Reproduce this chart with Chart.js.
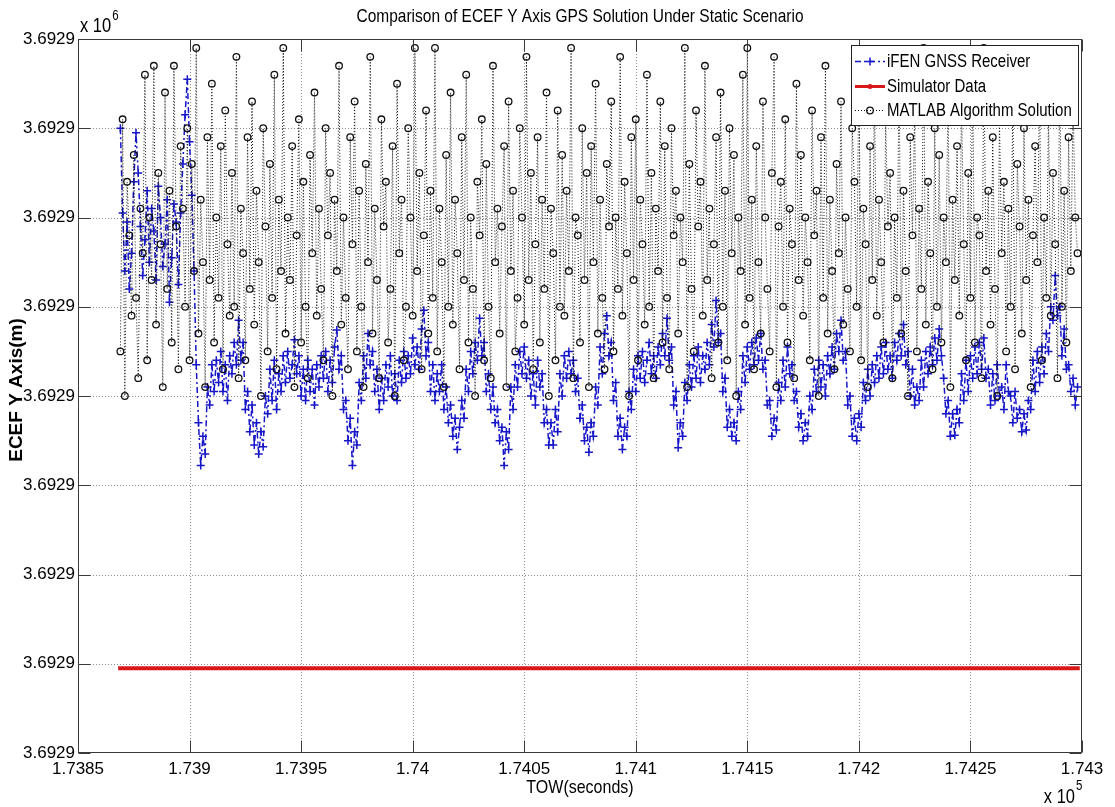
<!DOCTYPE html>
<html><head><meta charset="utf-8">
<script src="https://cdn.jsdelivr.net/npm/chart.js@4.4.1/dist/chart.umd.min.js"></script>
<style>html,body{margin:0;padding:0;background:#fff;overflow:hidden}canvas{display:block}</style>
</head><body>
<canvas id="c" width="1115" height="807"></canvas>
<script>
const chartTitle = 'Comparison of ECEF Y Axis GPS Solution Under Static Scenario';
const xAxisTitle = 'TOW(seconds)';
const yAxisTitle = 'ECEF Y Axis(m)';
const seriesNames = ['iFEN GNSS Receiver', 'Simulator Data', 'MATLAB Algorithm Solution'];
const xTickValues = [173850, 173900, 173950, 174000, 174050, 174100, 174150, 174200, 174250, 174300];
const yTickValues = [3692890, 3692891, 3692892, 3692893, 3692894, 3692895, 3692896, 3692897, 3692898];
const yBase = 3692890;        // metres; series below are offsets from this
const towStart = 173869;      // first epoch (s), 1 Hz epochs

const ifenOffset = [
 7.00, 6.05, 5.40, 5.95, 5.20, 5.60, 6.40, 6.95, 6.50, 5.90,
 5.35, 5.75, 6.30, 5.50, 6.10, 5.85, 5.30, 6.35, 6.00, 5.45,
 5.70, 6.20, 5.05, 5.55, 6.15, 5.95, 5.25, 6.05, 6.60, 7.15,
 7.55, 6.85, 6.25,
 5.40, 4.35, 3.70, 3.22, 3.55, 3.35, 4.10, 3.90, 4.35, 4.05,
 4.40, 4.15, 4.50, 4.05, 4.35, 3.95, 4.45, 4.25, 4.60, 4.35,
 4.85, 4.40, 4.60, 3.85, 4.05, 3.60, 3.90, 3.45, 3.70, 3.35,
 3.60, 3.43, 4.00, 3.80, 4.30, 3.95, 4.40, 3.85, 4.25, 4.05,
 4.45, 4.15, 4.50, 4.20, 4.35, 4.63, 4.25, 4.45, 4.00, 4.30,
 3.95, 4.40, 4.05, 4.30, 3.90, 4.35, 4.10, 4.45, 4.20, 4.50,
 4.05, 4.40, 4.15, 4.55, 4.74, 4.30, 4.45, 3.85, 3.95, 3.50,
 3.75, 3.22, 3.60, 3.45, 4.15, 3.95, 4.45, 4.20, 4.70, 4.35,
 4.50, 4.05, 4.30, 3.85, 4.20, 3.95, 4.35, 4.10, 4.45, 4.00,
 4.25, 3.95, 4.40, 4.15, 4.50, 4.20, 4.45, 4.25, 4.65, 4.35,
 4.55, 4.30, 4.75, 4.96, 4.45, 4.60, 4.05, 4.35, 3.95, 4.25,
 4.05, 4.35, 3.85, 4.10, 3.70, 3.90, 3.55, 3.75, 3.40, 3.65,
 3.95, 3.75, 4.30, 4.05, 4.50, 4.25, 4.60, 4.40, 4.87, 4.45,
 4.60, 4.05, 4.25, 3.85, 4.10, 3.70, 3.85, 3.50, 3.65, 3.22,
 3.60, 3.40, 4.10, 3.85, 4.35, 4.10, 4.50, 4.25, 4.55, 4.20,
 4.40, 4.00, 4.25, 3.90, 4.40, 4.10, 4.25, 3.70, 3.85, 3.45,
 3.70, 3.45, 3.85, 3.60, 4.25, 4.00, 4.45, 4.20, 4.50, 4.25,
 4.40, 4.05, 4.20, 3.75, 3.90, 3.50, 3.65, 3.37, 3.70, 3.55,
 4.10, 3.90, 4.55, 4.25, 4.70, 4.90, 4.45, 4.60, 3.95, 4.15,
 3.55, 3.75, 3.40, 3.65, 3.55, 4.05, 3.85, 4.30, 4.05, 4.45,
 4.20, 4.50, 4.15, 4.40, 4.60, 4.25, 4.45, 4.20, 4.55, 4.35,
 4.70, 4.45, 4.87, 4.40, 4.55, 3.90, 4.05, 3.42, 3.70, 3.55,
 4.15, 3.95, 4.35, 4.10, 4.45, 4.20, 4.55, 4.15, 4.45, 4.30,
 4.60, 4.35, 4.80, 4.55, 5.07, 4.60, 4.70, 4.05, 4.20, 3.65,
 3.85, 3.55, 3.70, 3.50, 4.05, 3.85, 4.45, 4.15, 4.55, 4.30,
 4.60, 4.35, 4.65, 4.40, 4.70, 4.30, 4.40, 3.90, 3.95, 3.55,
 3.75, 3.62, 4.15, 3.95, 4.40, 4.10, 4.55, 4.25, 4.35, 3.95,
 4.05, 3.65, 3.80, 3.50, 3.70, 3.55, 4.00, 3.85, 4.30, 4.05,
 4.40, 4.10, 4.35, 4.00, 4.45, 4.25, 4.55, 4.30, 4.70, 4.50,
 4.85, 4.40, 4.50, 3.90, 4.00, 3.55, 3.75, 3.50, 3.80, 3.65,
 4.15, 3.95, 4.30, 4.00, 4.35, 4.15, 4.45, 4.20, 4.55, 4.25,
 4.60, 4.30, 4.45, 4.20, 4.60, 4.40, 4.70, 4.45, 4.80, 4.35,
 4.50, 4.00, 4.30, 3.90, 4.10, 3.95, 4.40, 4.10, 4.50, 4.25,
 4.55, 4.35, 4.65, 4.40, 4.75, 4.45, 4.20, 3.80, 3.95, 3.55,
 3.80, 3.56, 3.85, 3.70, 4.25, 3.95, 4.40, 4.05, 4.45, 4.20,
 4.55, 4.25, 4.60, 4.30, 4.65, 4.20, 4.30, 3.90, 4.25, 3.95,
 4.35, 4.00, 4.10, 3.85, 4.35, 4.05, 4.00, 3.70, 4.05, 3.75,
 3.85, 3.60, 3.80, 3.62, 3.95, 3.85, 4.40, 4.05, 4.50, 4.15,
 4.55, 4.25, 4.70, 4.50, 5.00, 4.85, 5.35, 4.90, 5.00, 4.45,
 4.75, 4.30, 4.35, 4.05, 4.20, 3.90, 4.10
];

const matlabOffset = [
 4.5, 7.1, 4.0, 6.4, 5.8, 4.9, 6.7, 5.1, 4.2, 6.1,
 5.6, 7.6, 4.4, 6.0, 5.3, 7.7, 4.8, 6.5, 5.7, 4.1,
 7.4, 5.2, 6.3, 4.6, 7.7, 5.9, 4.3, 6.8, 6.1, 5.0,
 7.0, 4.4, 6.6, 5.4, 7.9, 4.7, 6.2, 5.5, 4.1, 6.9,
 5.3, 7.5, 4.6, 6.0, 5.1, 6.8, 4.3, 7.2, 5.7, 4.9,
 6.5, 5.0, 7.8, 4.2, 6.1, 5.6, 4.4, 6.9, 5.2, 7.3,
 4.8, 6.3, 5.5, 4.0, 7.0, 5.9, 4.5, 6.6, 5.1, 7.6,
 4.3, 6.2, 5.4, 7.9, 4.7, 6.0, 5.3, 6.8, 4.1, 5.8,
 7.1, 4.6, 6.4, 5.0, 4.2, 6.7, 5.6, 7.4, 4.9, 6.1,
 5.2, 4.4, 7.0, 5.8, 6.5, 4.0, 6.2, 5.4, 7.7, 4.8,
 6.0, 5.1, 4.3, 6.9, 5.7, 7.3, 4.5, 6.3, 5.0, 4.1,
 6.6, 5.5, 7.8, 4.7, 6.1, 5.3, 4.2, 7.1, 5.9, 6.4,
 4.6, 5.2, 6.8, 4.0, 7.5, 5.6, 6.2, 4.4, 5.0, 7.0,
 6.0, 4.9, 7.9, 5.4, 6.5, 4.3, 5.8, 7.2, 4.7, 6.3,
 5.1, 7.9, 4.5, 6.1, 5.5, 4.1, 6.7, 5.0, 7.4, 4.8,
 6.2, 5.6, 4.3, 6.9, 5.3, 7.6, 4.6, 6.0, 5.2, 4.0,
 6.4, 5.8, 7.1, 4.4, 6.6, 5.0, 4.2, 7.7, 5.5, 6.1,
 4.7, 5.9, 6.8, 4.1, 7.3, 5.4, 6.3, 4.5, 5.1, 7.0,
 6.0, 4.8, 7.8, 5.3, 6.5, 4.3, 5.7, 6.9, 4.6, 6.2,
 5.2, 7.4, 4.0, 6.1, 5.6, 4.4, 7.2, 5.0, 6.7, 4.9,
 6.3, 5.4, 7.9, 4.2, 6.0, 5.8, 4.6, 7.0, 5.3, 6.5,
 4.1, 6.8, 5.5, 7.5, 4.7, 6.2, 5.1, 4.3, 6.6, 5.9,
 7.3, 4.5, 6.0, 5.2, 7.8, 4.9, 6.4, 5.6, 4.0, 6.9,
 5.3, 7.1, 4.4, 6.2, 5.7, 4.8, 7.6, 5.0, 6.5, 4.2,
 6.1, 5.4, 7.3, 4.6, 6.8, 5.1, 4.3, 7.0, 5.8, 6.3,
 4.7, 6.0, 5.5, 7.9, 4.1, 6.6, 5.2, 4.5, 7.2, 5.9,
 6.4, 4.9, 7.7, 5.3, 6.1, 4.2, 5.7, 6.9, 4.6, 7.4,
 5.0, 6.3, 4.4, 7.0, 5.6, 6.7, 4.0, 6.0, 5.4, 7.6,
 4.8, 7.9, 5.1, 6.2, 4.3, 6.8, 5.5, 4.7, 7.3, 6.0,
 5.2, 4.5, 6.5, 7.8, 4.1, 5.9, 6.4, 5.0, 7.1, 4.6,
 6.1, 5.7, 4.2, 7.5, 5.3, 6.7, 4.9, 6.0, 5.5, 4.4,
 7.2, 5.8, 6.3, 4.0, 6.9, 5.1, 7.7, 4.7, 6.2, 5.4,
 4.3, 6.6, 5.6, 7.3, 4.8, 6.0, 5.2, 4.5, 7.0, 6.4,
 5.0, 7.8, 4.4, 6.1, 5.7, 4.1, 6.8, 5.3, 7.4, 4.9,
 6.2, 5.5, 4.6, 7.1, 5.9, 6.5, 4.2, 6.0, 5.1, 7.6,
 4.7, 6.3, 5.4, 4.0, 6.9, 5.8, 7.2, 4.5, 6.1, 5.2,
 7.9, 4.8, 6.4, 5.6, 4.3, 7.0, 5.0, 6.7, 4.6, 6.0,
 5.5, 7.5, 4.1, 6.2, 5.3, 6.8, 4.9, 7.3, 5.7, 4.4,
 6.5, 5.1, 7.7, 4.6, 6.0, 5.8, 4.2, 7.9, 5.4, 6.3,
 4.8, 6.9, 5.2, 4.0, 7.1, 5.6, 6.4, 4.5, 6.1, 5.0,
 7.4, 4.3, 6.6, 5.9, 4.7, 7.0, 5.3, 6.2, 4.1, 5.8,
 6.8, 5.5, 7.6, 4.4, 6.0, 5.1, 7.2, 4.9, 6.5, 5.7,
 4.2, 7.8, 5.0, 6.3, 4.6, 6.9, 5.4, 7.3, 6.0, 5.6
];

const simTimes  = [173868, 173900, 174000, 174100, 174200, 174299];
const simOffset = [0.95, 0.95, 0.95, 0.95, 0.95, 0.95];

const FAM = '"Liberation Sans", Arial, sans-serif';
const SZ = {tick: 17, legend: 15, title: 15.5, axis: 16, exp: 16.5, sup: 11.5};
const STRETCH = 1.2;   // reference text is taller than it is wide

const BLUE = '#1616c8', RED = '#d81818', BLACK = '#111111';

const ifenData = ifenOffset.map((o, i) => ({x: towStart + i, y: yBase + o}));
const matlabData = matlabOffset.map((o, i) => ({x: towStart + i, y: yBase + o}));
const simData = simTimes.map((t, i) => ({x: t, y: yBase + simOffset[i]}));

function tallText(ctx, text, x, y) {
  ctx.save(); ctx.translate(x, y); ctx.scale(1, STRETCH); ctx.fillText(text, 0, 0); ctx.restore();
}

function drawMarker(ctx, style, x, y) {
  ctx.save();
  ctx.setLineDash([]);
  if (style === 'cross') {
    ctx.strokeStyle = BLUE; ctx.lineWidth = 1.5;
    ctx.beginPath(); ctx.moveTo(x - 4, y); ctx.lineTo(x + 4, y); ctx.moveTo(x, y - 4); ctx.lineTo(x, y + 4); ctx.stroke();
  } else if (style === 'dot') {
    ctx.fillStyle = RED; ctx.beginPath(); ctx.arc(x, y, 2.5, 0, Math.PI * 2); ctx.fill();
  } else {
    ctx.strokeStyle = BLACK; ctx.lineWidth = 1.3;
    ctx.beginPath(); ctx.arc(x, y, 3.3, 0, Math.PI * 2); ctx.stroke();
  }
  ctx.restore();
}

const framePlugin = {
  id: 'frame',
  beforeDatasetsDraw(chart) {
    const {ctx, chartArea: a, scales: {x, y}} = chart;
    ctx.save();
    ctx.strokeStyle = '#8c8c8c'; ctx.lineWidth = 1; ctx.setLineDash([1, 2]);
    ctx.beginPath();
    xTickValues.forEach(v => {
      const p = Math.round(x.getPixelForValue(v)) + 0.5;
      if (p > a.left + 2 && p < a.right - 2) { ctx.moveTo(p, a.top); ctx.lineTo(p, a.bottom); }
    });
    yTickValues.forEach(v => {
      const p = Math.round(y.getPixelForValue(v)) + 0.5;
      if (p > a.top + 2 && p < a.bottom - 2) { ctx.moveTo(a.left, p); ctx.lineTo(a.right, p); }
    });
    ctx.stroke();
    ctx.restore();
  },
  afterDatasetsDraw(chart) {
    const {ctx, chartArea: a, scales: {x, y}} = chart;
    ctx.save();
    ctx.strokeStyle = '#3a3a3a'; ctx.lineWidth = 1; ctx.setLineDash([]);
    const L = Math.round(a.left) + 0.5, R = Math.round(a.right) - 0.5, T = Math.round(a.top) + 0.5, B = Math.round(a.bottom) - 0.5;
    ctx.strokeRect(L, T, R - L, B - T);
    ctx.beginPath();
    const tl = 12;
    xTickValues.forEach(v => {
      const p = Math.round(x.getPixelForValue(v)) + 0.5;
      ctx.moveTo(p, B); ctx.lineTo(p, B - tl);
      ctx.moveTo(p, T); ctx.lineTo(p, T + tl);
    });
    yTickValues.forEach(v => {
      const p = Math.round(y.getPixelForValue(v)) + 0.5;
      ctx.moveTo(L, p); ctx.lineTo(L + tl, p);
      ctx.moveTo(R, p); ctx.lineTo(R - tl, p);
    });
    ctx.stroke();
    ctx.restore();
  },
  afterDraw(chart) {
    const {ctx, chartArea: a} = chart;
    ctx.save();
    ctx.fillStyle = '#000';
    ctx.textAlign = 'center'; ctx.textBaseline = 'middle';
    ctx.font = SZ.title + 'px ' + FAM;
    tallText(ctx, chartTitle, (a.left + a.right) / 2, 17);
    ctx.font = SZ.axis + 'px ' + FAM;
    tallText(ctx, xAxisTitle, (a.left + a.right) / 2, 788);
    // y axis title
    ctx.save();
    ctx.translate(17, (a.top + a.bottom) / 2 - 6);
    ctx.rotate(-Math.PI / 2);
    ctx.font = 'bold 19px ' + FAM;
    ctx.fillText(yAxisTitle, 0, 0);
    ctx.restore();
    // exponents
    ctx.textAlign = 'left';
    ctx.font = SZ.exp + 'px ' + FAM;
    tallText(ctx, 'x 10', a.left + 2, 27);
    let w = ctx.measureText('x 10').width;
    ctx.font = SZ.sup + 'px ' + FAM;
    tallText(ctx, '6', a.left + 3 + w, 16);
    ctx.font = SZ.exp + 'px ' + FAM;
    w = ctx.measureText('x 10').width;
    tallText(ctx, 'x 10', a.right - w - 7, 798);
    ctx.font = SZ.sup + 'px ' + FAM;
    tallText(ctx, '5', a.right - 6, 786);
    // legend
    const bx = 851, by = 45, bw = 227, bh = 80;
    ctx.fillStyle = '#fff'; ctx.fillRect(bx, by, bw, bh);
    ctx.strokeStyle = '#222'; ctx.lineWidth = 1; ctx.strokeRect(bx + 0.5, by + 0.5, bw, bh);
    const rows = [61, 86, 110];
    const styles = [
      {color: BLUE, dash: [6, 3, 2, 3], width: 1.5, marker: 'cross'},
      {color: RED, dash: [], width: 3, marker: 'dot'},
      {color: BLACK, dash: [1, 2], width: 1, marker: 'circle'}
    ];
    ctx.font = SZ.legend + 'px ' + FAM;
    rows.forEach((ry, i) => {
      const s = styles[i];
      ctx.save();
      ctx.strokeStyle = s.color; ctx.lineWidth = s.width; ctx.setLineDash(s.dash);
      ctx.beginPath(); ctx.moveTo(855, ry + 0.5); ctx.lineTo(885, ry + 0.5); ctx.stroke();
      ctx.restore();
      drawMarker(ctx, s.marker, 870, ry + 0.5);
      ctx.fillStyle = '#000';
      tallText(ctx, seriesNames[i], 887, ry + 1);
    });
    ctx.restore();
  }
};

new Chart(document.getElementById('c'), {
  type: 'line',
  data: {
    datasets: [
      {
        label: seriesNames[2], data: matlabData, order: 1,
        borderColor: BLACK, borderWidth: 1, borderDash: [1, 2],
        pointStyle: 'circle', pointRadius: 3.3, pointBorderWidth: 1.3,
        pointBorderColor: BLACK, pointBackgroundColor: 'rgba(0,0,0,0)',
        tension: 0, fill: false
      },
      {
        label: seriesNames[1], data: simData, order: 2,
        borderColor: RED, borderWidth: 4, pointRadius: 0, tension: 0, fill: false
      },
      {
        label: seriesNames[0], data: ifenData, order: 3,
        borderColor: BLUE, borderWidth: 1.5, borderDash: [6, 3, 2, 3],
        pointStyle: 'cross', pointRadius: 4, pointBorderWidth: 1.5,
        pointBorderColor: BLUE, tension: 0, fill: false
      }
    ]
  },
  options: {
    responsive: false,
    devicePixelRatio: 1,
    animation: false,
    events: [],
    layout: {padding: {top: 39, right: 33, left: 0, bottom: 0}},
    plugins: {legend: {display: false}, title: {display: false}, tooltip: {enabled: false}},
    scales: {
      x: {
        type: 'linear', min: xTickValues[0], max: xTickValues[xTickValues.length - 1],
        afterBuildTicks: s => { s.ticks = xTickValues.map(v => ({value: v})); },
        afterFit: s => { s.height = 54; },
        grid: {display: false, drawTicks: false}, border: {display: false},
        ticks: {
          autoSkip: false, maxRotation: 0, padding: 6, color: '#000',
          font: {family: FAM, size: SZ.tick},
          callback: v => String(+(v / 1e5).toFixed(5))
        }
      },
      y: {
        type: 'linear', min: yTickValues[0], max: yTickValues[yTickValues.length - 1],
        afterBuildTicks: s => { s.ticks = yTickValues.map(v => ({value: v})); },
        afterFit: s => { s.width = 78; },
        grid: {display: false, drawTicks: false}, border: {display: false},
        ticks: {
          autoSkip: false, padding: 3, color: '#000',
          font: {family: FAM, size: SZ.tick},
          callback: v => (v / 1e6).toFixed(4)
        }
      }
    }
  },
  plugins: [framePlugin]
});
</script>
</body></html>
